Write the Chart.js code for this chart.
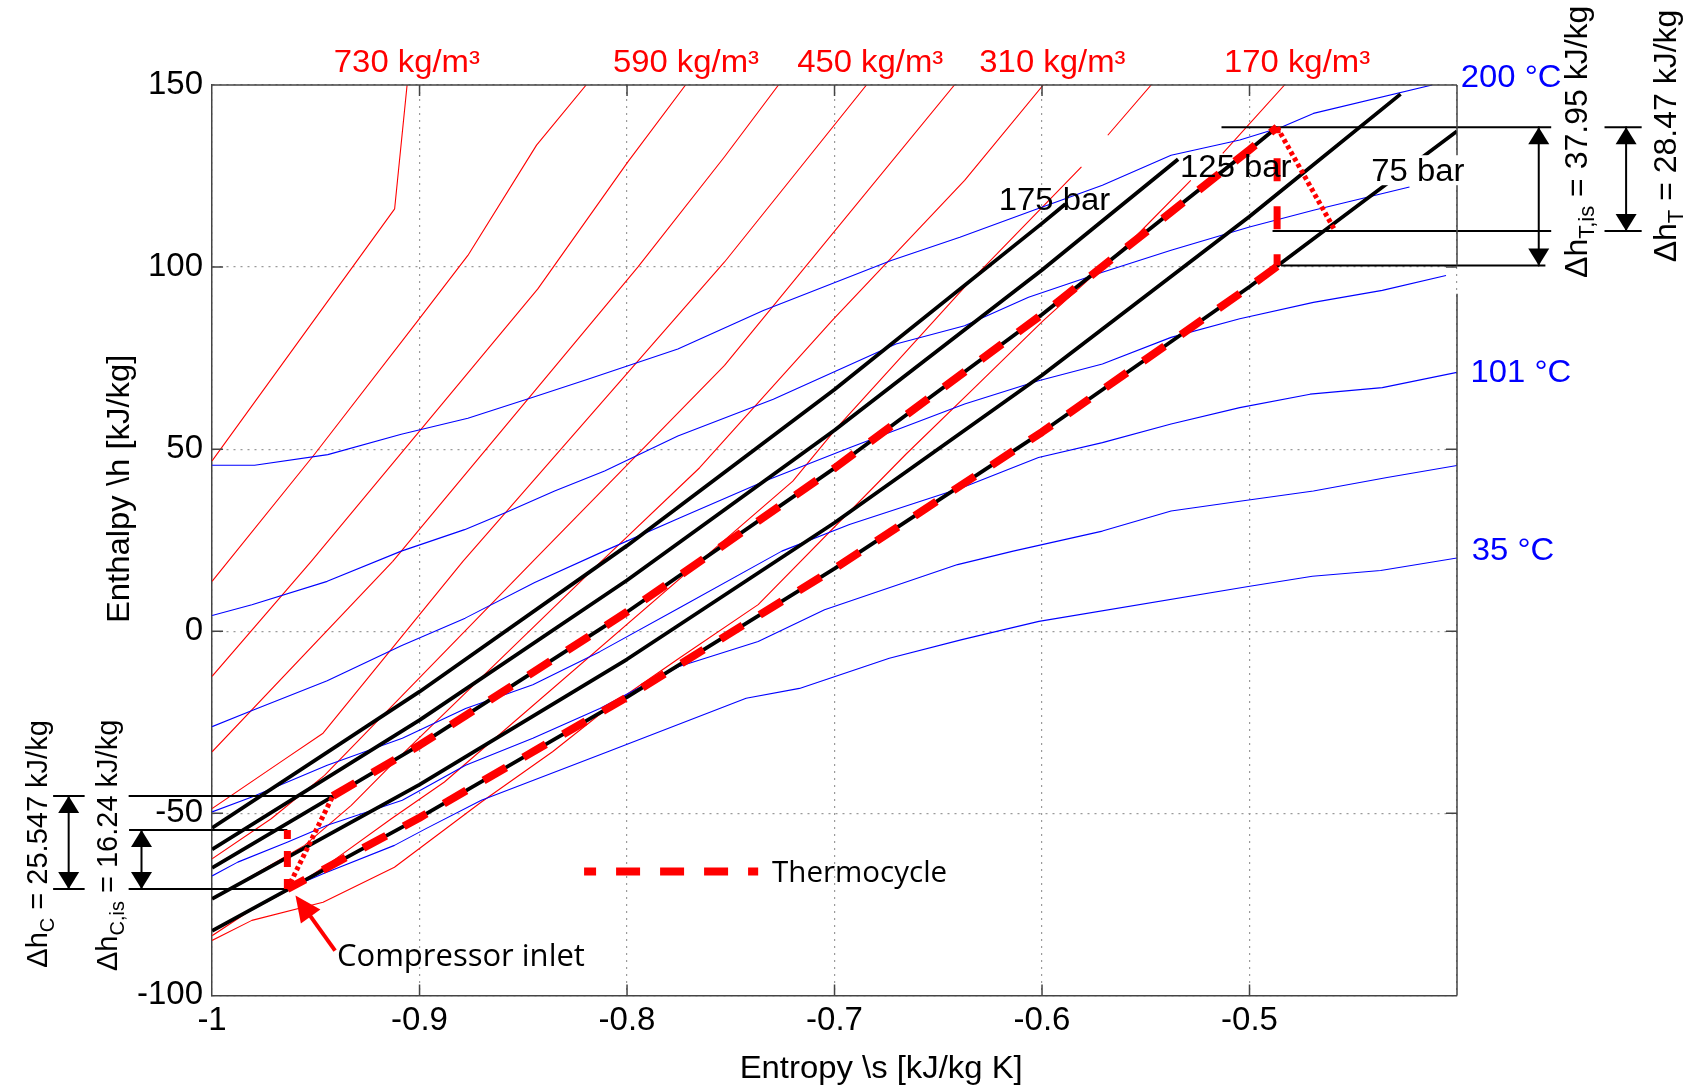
<!DOCTYPE html>
<html lang="en">
<head>
<meta charset="UTF-8" />
<title>CO2 h-s diagram with thermocycle</title>
<script src="https://cdn.jsdelivr.net/npm/chart.js"></script>
<style>
  html, body { margin: 0; padding: 0; background: #fff; }
  .wrap { position: relative; width: 1690px; height: 1088px; }
</style>
</head>
<body>
<div class="wrap"><canvas id="hsChart"></canvas></div>
<script>
  // ---- isobars (black), entropy s [kJ/kg K] -> enthalpy h [kJ/kg]
  const p175S = [-1, -0.9, -0.8, -0.7, -0.6, -0.5887];
  const p175H = [-54.0, -16.6, 23.5, 66.4, 112.0, 117.3];
  const p150S = [-1, -0.9, -0.8, -0.7, -0.6, -0.5344];
  const p150H = [-59.9, -24.4, 14.0, 55.2, 99.2, 129.6];
  const p125S = [-1, -0.9, -0.8, -0.7, -0.6, -0.5, -0.4867];
  const p125H = [-65.0, -31.3, 5.3, 44.8, 87.0, 132.2, 138.4];
  const p100S = [-1, -0.9, -0.8, -0.7, -0.6, -0.5, -0.4272];
  const p100H = [-73.5, -42.1, -7.7, 29.8, 70.3, 113.9, 147.5];
  const p75S = [-1, -0.9, -0.8, -0.7, -0.6, -0.5, -0.4];
  const p75H = [-82.3, -51.2, -18.1, 17.2, 54.7, 94.6, 137.3];

  // ---- isotherms (blue)
  const t200S = [-1, -0.9795, -0.9442, -0.9088, -0.8767, -0.8446, -0.8189, -0.7755, -0.7343, -0.6727, -0.6396, -0.6041, -0.5709, -0.5378, -0.5047, -0.4847, -0.4692, -0.412];
  const t200H = [45.6, 45.6, 48.5, 54.1, 58.5, 64.4, 69.2, 77.5, 88.1, 101.8, 108.2, 115.6, 122.5, 130.7, 134.9, 138.4, 142.2, 150];
  const t167S = [-1, -0.9808, -0.9445, -0.9088, -0.8783, -0.859, -0.8349, -0.8108, -0.7755, -0.7295, -0.6704, -0.6373, -0.6065, -0.5709, -0.5378, -0.5, -0.4692, -0.4229];
  const t167H = [4.3, 7.3, 13.7, 22.0, 27.9, 32.5, 38.5, 44.0, 53.6, 63.7, 78.9, 83.9, 91.7, 98.6, 104.6, 111.0, 115.6, 122.0];
  const t134S = [-1, -0.9801, -0.9445, -0.9088, -0.878, -0.8445, -0.8111, -0.7747, -0.7338, -0.6928, -0.6373, -0.6017, -0.5709, -0.5378, -0.5047, -0.4692, -0.436, -0.4053];
  const t134H = [-26.2, -21.6, -13.6, -4.0, 3.6, 13.4, 22.0, 31.1, 41.2, 50.4, 62.4, 68.8, 73.4, 80.7, 85.8, 90.3, 93.6, 97.7];
  const t101S = [-1, -0.9808, -0.9445, -0.9083, -0.8778, -0.8454, -0.8131, -0.7749, -0.7254, -0.6928, -0.6386, -0.6017, -0.5709, -0.5378, -0.5047, -0.4708, -0.436, -0.4];
  const t101H = [-49.6, -45.5, -36.8, -29.4, -21.2, -14.7, -5.6, 6.4, 22.0, 29.3, 39.4, 47.7, 51.8, 56.9, 61.4, 65.1, 66.9, 71.1];
  const t68S = [-1, -0.9876, -0.9635, -0.9445, -0.9083, -0.8778, -0.8454, -0.8131, -0.7749, -0.7368, -0.7048, -0.6407, -0.6139, -0.5709, -0.5378, -0.5047, -0.4692, -0.4337, -0.4];
  const t68H = [-67.2, -63.4, -57.9, -53.3, -46.4, -36.8, -29.4, -21.2, -9.7, -2.8, 5.9, 18.3, 22.0, 27.5, 33.0, 35.7, 38.5, 42.2, 45.5];
  const t35S = [-0.9637, -0.9465, -0.9121, -0.8969, -0.8702, -0.8093, -0.7426, -0.7169, -0.6736, -0.6386, -0.6015, -0.5006, -0.4697, -0.4368, -0.4];
  const t35H = [-70.8, -66.6, -58.8, -54.2, -46.4, -33.1, -18.4, -15.7, -7.4, -2.3, 2.7, 12.3, 15.1, 16.7, 20.1];

  // ---- isochores (red), null = gap in the source data
  const d730S = [-1, -0.912, -0.906];
  const d730H = [46.8, 116.0, 150];
  const d660S = [-1, -0.9506, -0.9008, -0.8767, -0.8436, -0.8197];
  const d660H = [13.7, 48.6, 85.3, 103.2, 133.5, 150];
  const d590S = [-1, -0.9522, -0.843, -0.7996, -0.7718];
  const d590H = [-12.4, 19.2, 94.0, 128.9, 150];
  const d520S = [-1, -0.9129, -0.7948, -0.753, -0.727];
  const d520H = [-33.1, 19.2, 100, 130.3, 150];
  const d450S = [-1, -0.9667, -0.9465, -0.8791, -0.753, -0.6846];
  const d450H = [-48.7, -35.8, -28.0, 19.2, 101.4, 150];
  const d380S = [-1, -0.9715, -0.9458, -0.8454, -0.753, -0.6422];
  const d380H = [-62.5, -51.5, -39.6, 19.2, 73.0, 150];
  const d310S = [-1, -0.9554, -0.9329, -0.912, -0.8124, -0.765, -0.7012, -0.6373, -0.5994];
  const d310H = [-73.5, -58.8, -47.8, -35.8, 19.2, 44.9, 85.3, 123.8, 150];
  const d240S = [-1, -0.9827, -0.9618, -0.9426, -0.9136, -0.888, -0.7201, -0.6988, -0.6373, -0.581, null, -0.5683, -0.5474];
  const d240H = [-83.6, -77.1, -70.7, -63.4, -51.5, -41.4, 41.2, 55.9, 94.5, 127.5, null, 136.2, 150];
  const d170S = [-1, -0.9808, -0.9465, -0.9121, -0.8702, -0.8359, -0.8073, -0.7749, -0.7368, -0.6656, -0.6325, -0.5994, -0.5568, -0.5283, null, -0.5129, -0.4831];
  const d170H = [-84.9, -79.4, -74.4, -64.8, -46.9, -33.1, -20.2, -7.4, 7.3, 48.6, 66.9, 85.3, 107.3, 123.8, null, 131.2, 150];

  // ---- thermocycle: compressor in, compressor out, turbine in, turbine out
  const cycS = [-0.9637, -0.9418, -0.4867, -0.4587];
  const cycH = [-70.8, -45.25, 138.4, 109.93];
  const isenH = [-54.56, 100.45]; // isentropic compressor / turbine outlet
  const hpS = [-0.9418, -0.9, -0.8, -0.7, -0.6, -0.5, -0.4867];
  const hpH = [-45.25, -31.3, 5.3, 44.8, 87.0, 132.2, 138.4];
  const lpS = [-0.4867, -0.5, -0.6, -0.7, -0.8, -0.9, -0.9637];
  const lpH = [100.2, 94.6, 54.7, 17.2, -18.1, -51.2, -70.8];

  // ---- labels
  const densLabels = ['730 kg/m\u00b3', '590 kg/m\u00b3', '450 kg/m\u00b3', '310 kg/m\u00b3', '170 kg/m\u00b3'];
  const densLabelS = [-0.9061, -0.7716, -0.6828, -0.595, -0.4771];
  const tempLabels = ['200 \u00b0C', '101 \u00b0C', '35 \u00b0C'];
  const tempLabelS = [-0.3982, -0.3935, -0.3929];
  const tempLabelH = [152.6, 71.6, 22.7];
  const barLabels = ['175 bar', '125 bar', '75 bar'];
  const barLabelS = [-0.594, -0.5066, -0.4189];
  const barLabelH = [118.8, 127.8, 126.6];

  // helper lines for the enthalpy differences [s1, h1, s2, h2]
  const guides = [
    [-1.0766, cycH[1], cycS[1], cycH[1]],
    [-1.04, isenH[0], cycS[0], isenH[0]],
    [-1.0766, cycH[0], cycS[0], cycH[0]],
    [-0.5135, cycH[2], -0.3546, cycH[2]],
    [-0.3289, cycH[2], -0.311, cycH[2]],
    [-0.4889, cycH[3], -0.3546, cycH[3]],
    [-0.3289, cycH[3], -0.311, cycH[3]],
    [-0.4848, isenH[1], -0.3574, isenH[1]],
    [-1.0691, cycH[1], -1.0691, cycH[0]],
    [-1.034, isenH[0], -1.034, cycH[0]],
    [-0.3606, cycH[2], -0.3606, isenH[1]],
    [-0.3185, cycH[2], -0.3185, cycH[3]]
  ];

  const RED = 'rgb(255,0,0)';
  const BLUE = 'rgb(0,0,255)';
  const FONT = '"Liberation Sans", Arial, Helvetica, sans-serif';
  const SANS2 = '"Open Sans", sans-serif';

  function pts(s, h) { return s.map((v, i) => ({ x: v, y: h[i] })); }
  function line(s, h, color, width, order, extra) {
    return Object.assign({
      data: pts(s, h), showLine: true, borderColor: color, backgroundColor: color,
      borderWidth: width, pointRadius: 0, order: order, spanGaps: false, fill: false,
      borderCapStyle: 'butt', borderJoinStyle: 'round'
    }, extra || {});
  }

  const datasets = [];
  [[d730S, d730H], [d660S, d660H], [d590S, d590H], [d520S, d520H], [d450S, d450H],
   [d380S, d380H], [d310S, d310H], [d240S, d240H], [d170S, d170H]]
    .forEach(d => datasets.push(line(d[0], d[1], RED, 1.1, 6)));
  [[t200S, t200H], [t167S, t167H], [t134S, t134H], [t101S, t101H], [t68S, t68H], [t35S, t35H]]
    .forEach(d => datasets.push(line(d[0], d[1], BLUE, 1.1, 5)));
  [[p175S, p175H], [p150S, p150H], [p125S, p125H], [p100S, p100H], [p75S, p75H]]
    .forEach(d => datasets.push(line(d[0], d[1], '#000', 3.8, 4)));

  const dashed = { borderDash: [26, 20] };
  datasets.push(line(hpS, hpH, RED, 8, 2, dashed));
  datasets.push(line(lpS, lpH, RED, 8, 2, dashed));
  datasets.push(line([cycS[2], cycS[2]], [cycH[2], isenH[1]], RED, 7, 2, { borderDash: [23, 25], borderDashOffset: 17 }));
  datasets.push(line([cycS[0], cycS[0]], [cycH[0], isenH[0]], RED, 7, 2, { borderDash: [16, 12], borderDashOffset: 6 }));
  datasets.push(line([cycS[0], cycS[1]], [cycH[0], cycH[1]], RED, 5, 1, { borderDash: [4, 3] }));
  datasets.push(line([cycS[2], cycS[3]], [cycH[2], cycH[3]], RED, 5, 1, { borderDash: [4, 3] }));
  // legend sample
  datasets.push(line([-0.8207, -0.7368], [-66.0, -66.0], RED, 8, 1, { borderDash: [12, 20, 24, 20, 24, 20, 24, 20] }));
  guides.forEach(g => datasets.push(line([g[0], g[2]], [g[1], g[3]], '#000', 2, 3, { clip: false })));

  function runs(ctx, parts, x, y, opt) {
    ctx.save();
    ctx.translate(x, y);
    if (opt.rot) ctx.rotate(opt.rot);
    if (opt.hs) ctx.scale(opt.hs, 1);
    let total = 0;
    parts.forEach(p => {
      ctx.font = p[1] + 'px ' + (opt.family || FONT);
      p.w = ctx.measureText(p[0]).width;
      total += p.w;
    });
    let x0 = opt.align === 'center' ? -total / 2 : (opt.align === 'right' ? -total : 0);
    const size = parts[0][1];
    if (opt.bg) {
      ctx.fillStyle = '#fff';
      ctx.fillRect(x0 - opt.bg[0], -opt.bg[1], total + 2 * opt.bg[0], 2 * opt.bg[1]);
    }
    ctx.fillStyle = opt.color || '#000';
    ctx.textBaseline = 'alphabetic';
    ctx.textAlign = 'left';
    const base = 0.36 * size;
    parts.forEach(p => {
      ctx.font = p[1] + 'px ' + (opt.family || FONT);
      ctx.fillText(p[0], x0, base + (p[2] || 0));
      x0 += p.w;
    });
    ctx.restore();
  }

  function head(ctx, tx, ty, dx, dy, len, wid, color) {
    const n = Math.hypot(dx, dy); dx /= n; dy /= n;
    const bx = tx - dx * len, by = ty - dy * len;
    ctx.fillStyle = color;
    ctx.beginPath();
    ctx.moveTo(tx, ty);
    ctx.lineTo(bx - dy * wid / 2, by + dx * wid / 2);
    ctx.lineTo(bx + dy * wid / 2, by - dx * wid / 2);
    ctx.closePath();
    ctx.fill();
  }

  const annot = {
    id: 'annot',
    afterDatasetsDraw(chart) {
      const { ctx, chartArea: a, scales: { x, y } } = chart;
      const X = v => x.getPixelForValue(v);
      const Y = v => y.getPixelForValue(v);
      ctx.save();

      // box (top, right) and inward tick marks
      ctx.strokeStyle = '#444';
      ctx.lineWidth = 1.5;
      ctx.beginPath();
      ctx.moveTo(a.left, a.top); ctx.lineTo(a.right, a.top);
      ctx.moveTo(a.right, a.top); ctx.lineTo(a.right, Y(100.4));
      ctx.moveTo(a.right, Y(92.7)); ctx.lineTo(a.right, a.bottom);
      x.ticks.forEach(t => {
        if (t.value <= -0.99 || t.value >= -0.41) return;
        const px = X(t.value);
        ctx.moveTo(px, a.bottom); ctx.lineTo(px, a.bottom - 11);
        ctx.moveTo(px, a.top); ctx.lineTo(px, a.top + 11);
      });
      y.ticks.forEach(t => {
        if (t.value <= -99 || t.value >= 149) return;
        const py = Y(t.value);
        ctx.moveTo(a.left, py); ctx.lineTo(a.left + 11, py);
        ctx.moveTo(a.right, py); ctx.lineTo(a.right - 11, py);
      });
      ctx.stroke();

      // double arrows
      head(ctx, X(-1.0691), Y(cycH[1]), 0, -1, 17, 21, '#000');
      head(ctx, X(-1.0691), Y(cycH[0]), 0, 1, 17, 21, '#000');
      head(ctx, X(-1.034), Y(isenH[0]), 0, -1, 17, 21, '#000');
      head(ctx, X(-1.034), Y(cycH[0]), 0, 1, 17, 21, '#000');
      head(ctx, X(-0.3606), Y(cycH[2]), 0, -1, 17, 21, '#000');
      head(ctx, X(-0.3606), Y(isenH[1]), 0, 1, 17, 21, '#000');
      head(ctx, X(-0.3185), Y(cycH[2]), 0, -1, 17, 21, '#000');
      head(ctx, X(-0.3185), Y(cycH[3]), 0, 1, 17, 21, '#000');

      // compressor inlet pointer
      const tx = X(-0.9598), ty = Y(-72.55), sx = X(-0.9407), sy = Y(-87.7);
      ctx.strokeStyle = RED; ctx.lineWidth = 4;
      ctx.beginPath();
      ctx.moveTo(sx, sy);
      const L = Math.hypot(tx - sx, ty - sy);
      ctx.lineTo(tx + (sx - tx) * 20 / L, ty + (sy - ty) * 20 / L);
      ctx.stroke();
      head(ctx, tx, ty, tx - sx, ty - sy, 26, 24, RED);

      // texts
      const hs = 1.06;
      densLabels.forEach((t, i) => runs(ctx, [[t, 31]], X(densLabelS[i]), Y(156.5), { align: 'center', color: RED, hs }));
      tempLabels.forEach((t, i) => runs(ctx, [[t, 31]], X(tempLabelS[i]), Y(tempLabelH[i]), { align: 'left', color: BLUE, hs }));
      barLabels.forEach((t, i) => runs(ctx, [[t, 31]], X(barLabelS[i]), Y(barLabelH[i]), {
        align: 'center', hs, bg: i === 2 ? [3, 15] : null
      }));

      runs(ctx, [['Thermocycle', 29.5]], X(-0.7301), Y(-66.0), { align: 'left', family: SANS2 });
      runs(ctx, [['Compressor inlet', 31]], X(-0.9398), Y(-88.8), { align: 'left', family: SANS2 });

      const up = -Math.PI / 2;
      runs(ctx, [['\u0394h', 29], ['C', 20, 7], [' = 25.547 kJ/kg', 29]], X(-1.0848), Y(-58.4), { align: 'center', rot: up });
      runs(ctx, [['\u0394h', 29], ['C,is', 20, 7], [' = 16.24 kJ/kg', 29]], X(-1.0508), Y(-58.8), { align: 'center', rot: up, bg: [2, 22] });
      runs(ctx, [['\u0394h', 32], ['T,is', 22, 7], [' = 37.95 kJ/kg', 32]], X(-0.3427), Y(134.4), { align: 'center', rot: up });
      runs(ctx, [['\u0394h', 32], ['T', 22, 7], [' = 28.47 kJ/kg', 32]], X(-0.2999), Y(136.0), { align: 'center', rot: up });

      // axis titles
      runs(ctx, [['Entropy \\s [kJ/kg K]', 31]], X(-0.6775), Y(-119.5), { align: 'center', hs });
      runs(ctx, [['Enthalpy \\h [kJ/kg]', 31]], X(-1.0453), Y(39.1), { align: 'center', rot: up, hs });

      ctx.restore();
    }
  };

  Chart.defaults.font.family = FONT;
  Chart.defaults.font.size = 33;
  Chart.defaults.color = '#000';

  new Chart(document.getElementById('hsChart'), {
    type: 'scatter',
    data: { datasets },
    options: {
      responsive: true,
      maintainAspectRatio: false,
      animation: false,
      devicePixelRatio: 1,
      layout: { padding: { left: 128, right: 233, top: 85, bottom: 41 } },
      plugins: { legend: { display: false }, tooltip: { enabled: false } },
      elements: { point: { radius: 0 }, line: { tension: 0 } },
      scales: {
        x: {
          type: 'linear', min: -1, max: -0.4,
          ticks: {
            stepSize: 0.1, padding: 6, color: '#000', font: { size: 33 },
            callback: v => (v > -0.45 ? '' : String(Math.round(v * 10) / 10))
          },
          grid: { color: '#9a9a9a', lineWidth: 1.2, drawTicks: false },
          border: { color: '#444', width: 1.5, dash: [2, 5] }
        },
        y: {
          type: 'linear', min: -100, max: 150,
          ticks: { stepSize: 50, padding: 9, color: '#000', font: { size: 33 } },
          grid: { color: '#9a9a9a', lineWidth: 1.2, drawTicks: false },
          border: { color: '#444', width: 1.5, dash: [2, 5] }
        }
      }
    },
    plugins: [annot]
  });
</script>
</body>
</html>
